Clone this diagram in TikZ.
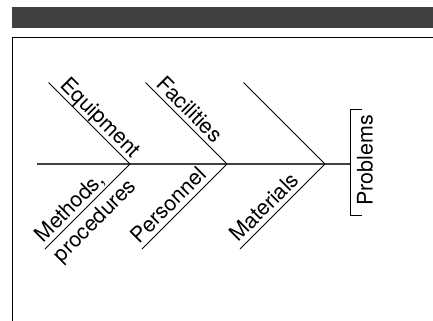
\documentclass[tikz,border=0pt]{standalone}
\usepackage{fontspec}
\setmainfont{TeX Gyre Heros}
\newcommand{\bonefont}{\fontsize{30.5}{37}\selectfont}
\tikzset{
  bone/.style={line width=0.5mm},
  cause/.style={sloped, inner xsep=0pt, inner ysep=0.23cm, text depth=0pt, font=\bonefont},
}
\begin{document}
\begin{tikzpicture}
\useasboundingbox (0,0) rectangle (21.65,-16.05);
%\draw (0,0) rectangle (21.65,-16.05);
\fill[black!75] (0.6,-0.365) rectangle (21.8,-1.415);
\draw[line width=0.75mm] (0.625,-16.3) |- (21.8,-1.875);
% spine
\coordinate (tail) at (1.85,-8.2);
\coordinate (j1) at (6.5,-8.2);
\coordinate (j2) at (11.35,-8.2);
\coordinate (j3) at (16.25,-8.2);
\coordinate (head) at (17.53,-8.2);
\draw[line width=0.65mm,black!75] (tail)--(head);
% upper bones
\coordinate (u1) at (2.43,-4.13);
\coordinate (u2) at (7.28,-4.13);
\coordinate (u3) at (12.18,-4.13);
\draw[bone] (u1)-- node[cause,pos=0.537,above] {Equipment} (j1);
\draw[bone] (u2)-- node[cause,pos=0.437,above] {Facilities} (j2);
\draw[bone] (u3)--(j3);
% lower bones
\coordinate (l1) at (2.25,-12.45);
\coordinate (l2) at (7.1,-12.45);
\coordinate (l3) at (12.0,-12.45);
\draw[bone] (l1)-- node[cause,pos=0.389,above] {Methods,}
  node[cause,pos=0.46,below,inner ysep=0.29cm] {procedures} (j1);
\draw[bone] (l2)-- node[cause,pos=0.415,above] {Personnel} (j2);
\draw[bone] (l3)-- node[cause,pos=0.389,above] {Materials} (j3);
% head
\draw[bone] (18.08,-5.45)--(17.53,-5.45)--(17.53,-10.75)--(18.08,-10.75);
\node[font=\bonefont,rotate=90,inner sep=0pt] (problem) at (18.25,-8.02) {Problems};
\end{tikzpicture}
\end{document}
